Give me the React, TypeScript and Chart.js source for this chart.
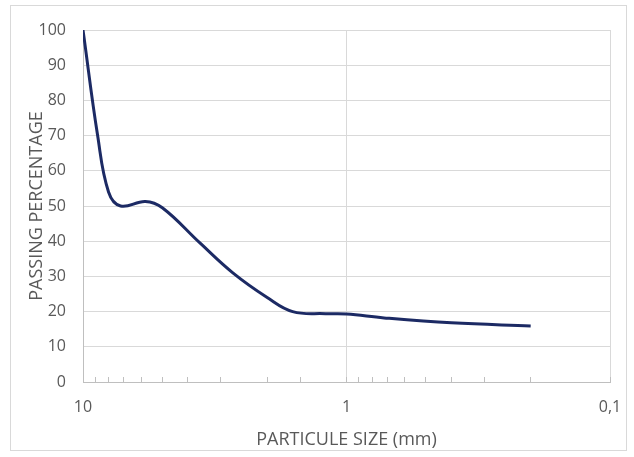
import React, { useEffect, useRef } from "react";
import { Chart, registerables } from "chart.js";

Chart.register(...registerables);

const sizes = [10, 8.8, 8.0, 7.2, 5.8, 5.0, 3.6, 2.7, 2.0, 1.6, 1.2, 1.0, 0.72, 0.4, 0.2];
const passing = [100, 70, 54, 50, 51.3, 49.5, 39.5, 31, 24, 20, 19.4, 19.3, 18.2, 16.8, 15.9];
const majorLabels: Record<string, string> = { "10": "10", "1": "1", "0.1": "0,1" };

const FONT = "'Open Sans', 'Liberation Sans', sans-serif";
const TEXT = "#595959";

export default function App() {
  const ref = useRef<HTMLCanvasElement | null>(null);
  useEffect(() => {
    if (!ref.current) return;
    const chart = new Chart(ref.current, {
      type: "line",
      data: {
        datasets: [
          {
            data: sizes.map((s, i) => ({ x: s, y: passing[i] })),
            borderColor: "#1c2a64",
            borderWidth: 3,
            pointRadius: 0,
            tension: 0.4,
            fill: false,
          },
        ],
      },
      options: {
        animation: false,
        responsive: false,
        maintainAspectRatio: false,
        layout: { padding: { left: 0, top: 30, right: 24, bottom: 0 } },
        plugins: { legend: { display: false }, tooltip: { enabled: false } },
        scales: {
          x: {
            type: "logarithmic",
            reverse: true,
            min: 0.1,
            max: 10,
            afterFit: (s: any) => {
              s.height = 75;
              s.paddingLeft = 0;
              s.paddingRight = 0;
            },
            border: { color: "#bfbfbf", width: 1 },
            grid: {
              color: (ctx: any) => (ctx.tick && ctx.tick.major ? "#d9d9d9" : "rgba(0,0,0,0)"),
              tickColor: "#bfbfbf",
              tickLength: -5,
              drawTicks: true,
            },
            ticks: {
              autoSkip: false,
              maxRotation: 0,
              padding: 21,
              color: TEXT,
              font: { family: FONT, size: 16 },
              callback: (v: any) => {
                const key = String(Number(v));
                return majorLabels[key] ?? "";
              },
            },
            title: {
              display: true,
              text: "PARTICULE SIZE (mm)",
              color: TEXT,
              font: { family: FONT, size: 18 },
              padding: { top: 0, bottom: 6 },
            },
          },
          y: {
            min: 0,
            max: 100,
            afterFit: (s: any) => {
              s.width = 83;
            },
            border: { color: "#bfbfbf", width: 1 },
            grid: { color: "#d9d9d9", drawTicks: false },
            ticks: {
              stepSize: 10,
              padding: 17,
              color: TEXT,
              font: { family: FONT, size: 16 },
            },
            title: {
              display: true,
              text: "PASSING PERCENTAGE",
              color: TEXT,
              font: { family: FONT, size: 18 },
              padding: { top: 26, bottom: 0 },
            },
          },
        },
      },
    });
    return () => chart.destroy();
  }, []);
  return (
    <div style={{ position: "fixed", left: 0, top: 0, width: 634, height: 457, background: "#fff" }}>
      <div
        style={{
          position: "absolute",
          left: 10,
          top: 5,
          width: 617,
          height: 446,
          border: "1px solid #d9d9d9",
          boxSizing: "border-box",
        }}
      />
      <canvas ref={ref} width={634} height={457} style={{ position: "absolute", left: 0, top: 0 }} />
    </div>
  );
}
